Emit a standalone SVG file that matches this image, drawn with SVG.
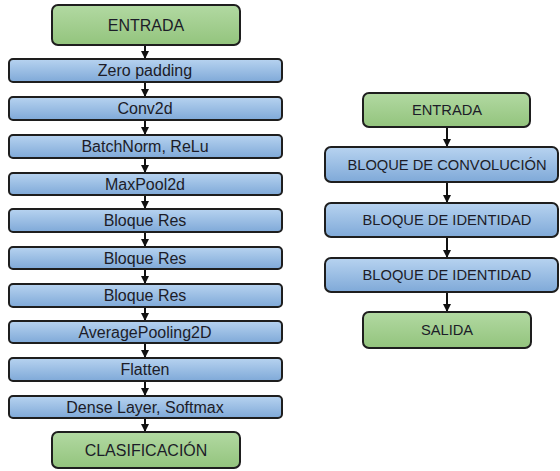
<svg xmlns="http://www.w3.org/2000/svg" width="560" height="471" viewBox="0 0 560 471">
<defs>
<linearGradient id="gb" x1="0" y1="0" x2="0" y2="1">
<stop offset="0" stop-color="#b7d3f0"/>
<stop offset="1" stop-color="#7fa9d8"/>
</linearGradient>
<linearGradient id="gg" x1="0" y1="0" x2="0" y2="1">
<stop offset="0" stop-color="#b2d9a2"/>
<stop offset="1" stop-color="#93c47d"/>
</linearGradient>
<marker id="ah" viewBox="0 0 10 10" refX="10" refY="5" markerWidth="4" markerHeight="4" markerUnits="strokeWidth" orient="auto">
<path d="M0,0 L10,5 L0,10 z" fill="#111"/>
</marker>
</defs>
<style>
.b{fill:url(#gb);stroke:#1e1e1e;stroke-width:2}
.g{fill:url(#gg);stroke:#1e1e1e;stroke-width:2}
text{font-family:"Liberation Sans",Arial,sans-serif;fill:#1c1c28;text-anchor:middle}
.l{font-size:16px}
.r{font-size:14.7px}
.c line{stroke:#111;stroke-width:2;marker-end:url(#ah)}
</style>
<rect width="560" height="471" fill="#fff"/>
<g class="c">
<line x1="145" y1="45" x2="145" y2="59"/>
<line x1="145" y1="82" x2="145" y2="97"/>
<line x1="145" y1="120" x2="145" y2="135"/>
<line x1="145" y1="158" x2="145" y2="173"/>
<line x1="145" y1="195" x2="145" y2="209"/>
<line x1="145" y1="232" x2="145" y2="247"/>
<line x1="145" y1="269" x2="145" y2="284"/>
<line x1="145" y1="307" x2="145" y2="321"/>
<line x1="145" y1="343" x2="145" y2="358"/>
<line x1="145" y1="381" x2="145" y2="396"/>
<line x1="145" y1="418" x2="145" y2="432"/>
<line x1="447" y1="127" x2="447" y2="147"/>
<line x1="447" y1="182" x2="447" y2="203"/>
<line x1="447" y1="237" x2="447" y2="258"/>
<line x1="447" y1="292" x2="447" y2="312"/>
</g>
<g id="l-entrada"><rect class="g" x="52" y="5" width="188" height="40" rx="6"/><text class="l" x="146" y="30.5">ENTRADA</text></g>
<g id="l-zero"><rect class="b" x="9" y="59" width="273" height="23" rx="4"/><text class="l" x="145" y="76">Zero padding</text></g>
<g id="l-conv"><rect class="b" x="9" y="97" width="273" height="23" rx="4"/><text class="l" x="145" y="114">Conv2d</text></g>
<g id="l-bn"><rect class="b" x="9" y="135" width="273" height="23" rx="4"/><text class="l" x="145" y="152">BatchNorm, ReLu</text></g>
<g id="l-mp"><rect class="b" x="9" y="173" width="273" height="22" rx="4"/><text class="l" x="145" y="189.5">MaxPool2d</text></g>
<g id="l-res1"><rect class="b" x="9" y="209" width="273" height="23" rx="4"/><text class="l" x="145" y="226">Bloque Res</text></g>
<g id="l-res2"><rect class="b" x="9" y="247" width="273" height="22" rx="4"/><text class="l" x="145" y="263.5">Bloque Res</text></g>
<g id="l-res3"><rect class="b" x="9" y="284" width="273" height="23" rx="4"/><text class="l" x="145" y="301">Bloque Res</text></g>
<g id="l-avg"><rect class="b" x="9" y="321" width="273" height="22" rx="4"/><text class="l" x="145" y="337.5">AveragePooling2D</text></g>
<g id="l-flat"><rect class="b" x="9" y="358" width="273" height="23" rx="4"/><text class="l" x="145" y="375">Flatten</text></g>
<g id="l-dense"><rect class="b" x="9" y="396" width="273" height="22" rx="4"/><text class="l" x="145" y="412.5">Dense Layer, Softmax</text></g>
<g id="l-clas"><rect class="g" x="52" y="432" width="188" height="36" rx="6"/><text class="l" x="146" y="455.5">CLASIFICACIÓN</text></g>
<g id="r-entrada"><rect class="g" x="363" y="93" width="167" height="34" rx="6"/><text class="r" x="447" y="115">ENTRADA</text></g>
<g id="r-conv"><rect class="b" x="325" y="147" width="233" height="35" rx="6"/><text class="r" x="447" y="169.5">BLOQUE DE CONVOLUCIÓN</text></g>
<g id="r-id1"><rect class="b" x="325" y="203" width="233" height="34" rx="6"/><text class="r" x="447" y="225">BLOQUE DE IDENTIDAD</text></g>
<g id="r-id2"><rect class="b" x="325" y="258" width="233" height="34" rx="6"/><text class="r" x="447" y="280">BLOQUE DE IDENTIDAD</text></g>
<g id="r-salida"><rect class="g" x="363" y="312" width="168" height="36" rx="6"/><text class="r" x="447" y="335">SALIDA</text></g>
</svg>
